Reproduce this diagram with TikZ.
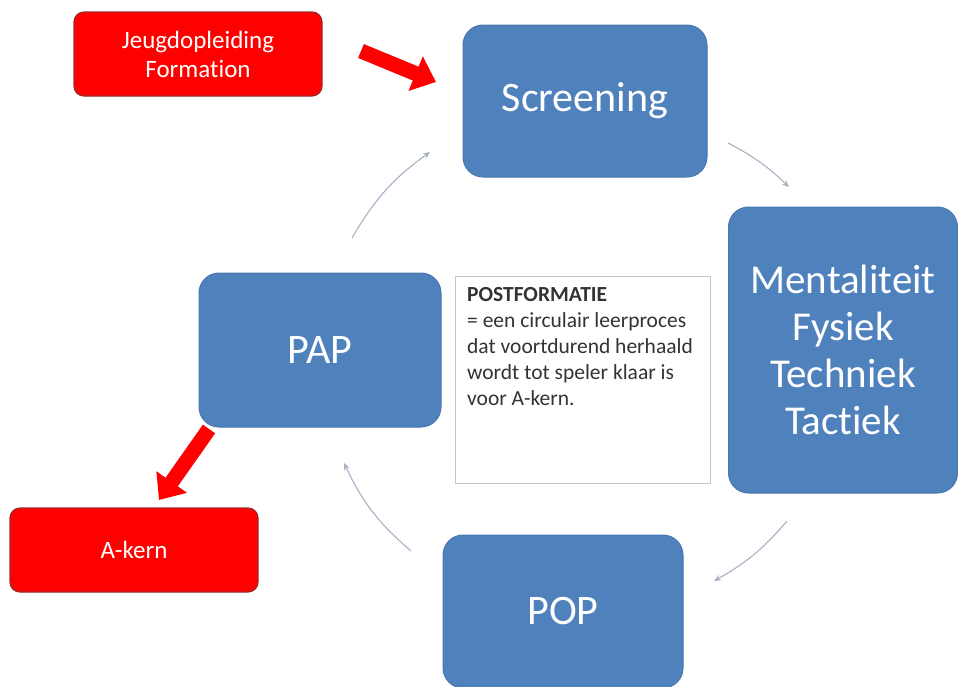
\documentclass[tikz,border=0pt]{standalone}
\usepackage{fontspec}
\setmainfont{Carlito}[Ligatures=NoCommon]
\usetikzlibrary{arrows.meta}
\begin{document}
\begin{tikzpicture}[x=1pt,y=-1pt,
  bluebox/.style={rectangle, rounded corners=20pt, fill=boxblue, draw=boxedge, line width=1pt, text=white, align=center, font=\fontsize{42}{47}\selectfont, inner sep=0pt},
  redbox/.style={rectangle, rounded corners=10pt, fill=boxred, draw=rededge, line width=1.2pt, text=white, align=center, font=\fontsize{25}{29}\selectfont, inner sep=0pt, minimum width=248pt, minimum height=84pt},
  cyc/.style={draw=arcgray, line width=1.1pt, -{Stealth[length=7pt,width=6pt]}},
  bigarrow/.style={draw=boxred, line width=15pt, -{Triangle[length=22pt,width=36pt]}}
]
\definecolor{boxblue}{HTML}{4F81BD}
\definecolor{boxedge}{HTML}{4A78B0}
\definecolor{boxred}{HTML}{FF0000}
\definecolor{rededge}{HTML}{9C2A2A}
\definecolor{arcgray}{HTML}{A9B1C6}
\useasboundingbox[fill=white] (0,0) rectangle (958,686);
\begin{scope}
\clip (0,0) rectangle (958,686);
\node[redbox] (jeugd) at (198,54) {Jeugdopleiding\\Formation};
\node[redbox] (akern) at (134,550) {A-kern};
\node[bluebox, minimum width=244pt, minimum height=152pt] (screen) at (585,101) {Screening};
\node[bluebox, minimum width=229pt, minimum height=286pt, font=\fontsize{41}{47}\selectfont] (mental) at (843,350) {Mentaliteit\\Fysiek\\Techniek\\Tactiek};
\node[bluebox, minimum width=242pt, minimum height=154pt] (pap) at (320,350) {PAP};
\node[bluebox, minimum width=240pt, minimum height=153pt] (pop) at (563,611.5) {POP};
\node[rectangle, draw=gray!45, fill=white, line width=0.8pt, minimum width=255pt, minimum height=207pt, inner sep=0pt] (post) at (582.5,379.5) {};
\node[anchor=north west, align=left, text=black!80, font=\fontsize{21.5}{26}\selectfont, inner sep=0pt] (posttext) at (467,287) {\textbf{POSTFORMATIE}\\= een circulair leerproces\\dat voortdurend herhaald\\wordt tot speler klaar is\\voor A-kern.};
\coordinate (t1) at (361,51);
\coordinate (h1) at (436,82);
\coordinate (t2) at (209,429);
\coordinate (h2) at (159,500);
\draw[bigarrow] (t1) -- (h1);
\draw[bigarrow] (t2) -- (h2);
\coordinate (a1) at (728,143);
\coordinate (b1) at (789,187);
\coordinate (a2) at (787,521);
\coordinate (b2) at (714,581);
\coordinate (a3) at (411,551);
\coordinate (b3) at (344,463);
\coordinate (a4) at (352,238);
\coordinate (b4) at (430,152);
\draw[cyc] (a1) to[bend left=8] (b1);
\draw[cyc] (a2) to[bend left=10] (b2);
\draw[cyc] (a3) to[bend left=12] (b3);
\draw[cyc] (a4) to[bend left=12] (b4);
\end{scope}
\end{tikzpicture}
\end{document}
